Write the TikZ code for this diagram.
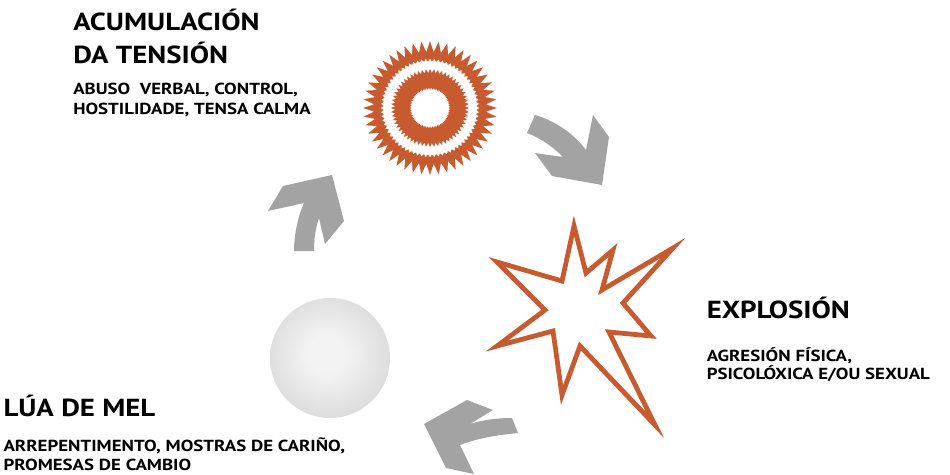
\documentclass[tikz,border=0pt]{standalone}
\usepackage{fontspec}
\setmainfont{PT Sans}
\newfontfamily\titlefont{PT Sans}[FakeStretch=1.17]
\newfontfamily\subfont{PT Sans}[FakeStretch=1.18]
\definecolor{rust}{HTML}{C75A2E}
\definecolor{arrowgray}{HTML}{A3A3A3}
\definecolor{sphin}{HTML}{F3F3F3}
\definecolor{sphmid}{HTML}{DDDDDD}
\definecolor{sphrim}{HTML}{C9C9C9}
\definecolor{sphout}{HTML}{B9B9B9}
\pgfdeclareradialshading{spherefill}{\pgfpoint{-2bp}{2bp}}{color(0bp)=(sphin); color(8bp)=(sphin); color(26bp)=(sphmid); color(42bp)=(sphrim); color(50bp)=(sphout)}
\tikzset{
  titletext/.style={anchor=base west, inner sep=0pt, font=\titlefont\fontsize{18.5}{22}\selectfont\bfseries},
  subtext/.style={anchor=base west, inner sep=0pt, font=\subfont\fontsize{12}{14}\selectfont\bfseries},
  cyclearrow/.style={fill=arrowgray, draw=none},
}
\begin{document}
\begin{tikzpicture}[x=0.75pt,y=-0.75pt]
\useasboundingbox (0,0) rectangle (950,475);

% sunburst (accumulation)
\begin{scope}[shift={(430,108)}]
\fill[rust, even odd rule]
  plot[domain=0:96, samples=97, variable=\k] ({\k*3.75}:{61.5+5.5*(1-2*mod(round(\k),2))}) -- cycle
  plot[domain=0:144, samples=145, variable=\k] ({\k*2.5}:{48+1.5*(1-2*mod(round(\k),2))}) -- cycle
  plot[domain=0:120, samples=121, variable=\k] ({\k*3}:{37+2*(1-2*mod(round(\k),2))}) -- cycle
  plot[domain=0:144, samples=145, variable=\k] ({\k*2.5}:{19.5+1*(1-2*mod(round(\k),2))}) -- cycle;
\end{scope}
\coordinate (sun) at (430,108);

% explosion
\draw[rust, line width=3.6pt, line join=miter, miter limit=20]
  (574,226) -- (586,273) -- (613,250) -- (602,290) -- (673,248) -- (623,303)
  -- (651,336) -- (609,332) -- (655,425) -- (580,346) -- (562,395) -- (553,331)
  -- (497,346) -- (545,310) -- (497,262) -- (562,281) -- cycle;
\coordinate (boom) at (575,320);

% sphere (honeymoon)
\shade[shading=spherefill] (330,358) circle (60);
\coordinate (moon) at (330,358);

% cycle arrows
\fill[cyclearrow] (535,115) .. controls (556,121) and (575,135) .. (586,150)
  -- (593,115) -- (609,137) -- (602,185) -- (552,176) -- (535,153) -- (563,157)
  .. controls (552,146) and (540,138) .. (527,133) -- cycle;
\fill[cyclearrow] (512,418) .. controls (497,418) and (482,420) .. (470,424)
  -- (493,410) -- (467,400) -- (424,424) -- (446,468) -- (474,474) -- (460,445)
  .. controls (478,438) and (498,435) .. (518,433) -- cycle;
\fill[cyclearrow] (294,251) .. controls (294,235) and (298,216) .. (304,203)
  -- (268,211) -- (283,186) -- (332,175) -- (344,221) -- (325,244) -- (319,218)
  .. controls (315,230) and (314,240) .. (314,251) -- cycle;

% texts
\node[titletext] (t1a) at (73,30.7) {ACUMULACIÓN};
\node[titletext] (t1b) at (73,63.3) {DA TENSIÓN};
\node[subtext] (s1a) at (73,94.3) {ABUSO\ \ VERBAL, CONTROL,};
\node[subtext] (s1b) at (73,114) {HOSTILIDADE, TENSA CALMA};

\node[titletext] (t2) at (706.5,318.3) {EXPLOSIÓN};
\node[subtext] (s2a) at (706.5,361.7) {AGRESIÓN FÍSICA,};
\node[subtext] (s2b) at (706.5,379.3) {PSICOLÓXICA E/OU SEXUAL};

\node[titletext] (t3) at (3.3,416.7) {LÚA DE MEL};
\node[subtext] (s3a) at (3.3,451.7) {ARREPENTIMENTO, MOSTRAS DE CARIÑO,};
\node[subtext] (s3b) at (3.3,470) {PROMESAS DE CAMBIO};
\end{tikzpicture}
\end{document}
